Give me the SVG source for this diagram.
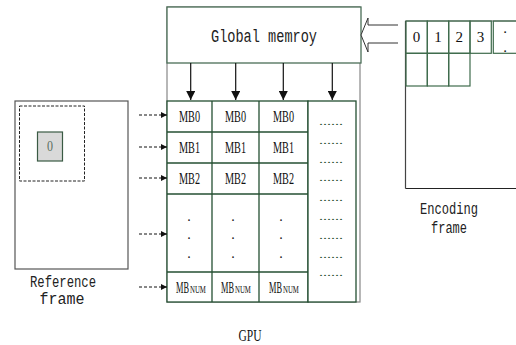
<svg xmlns="http://www.w3.org/2000/svg" width="516" height="345" viewBox="0 0 516 345">
<style>
.t{font-family:"Liberation Serif",serif;fill:#111}
.m{font-family:"Liberation Mono",monospace;fill:#222}
.box{fill:#fff;stroke:#4b6e57;stroke-width:1.3}
.grid{fill:#fff;stroke:#244f32;stroke-width:1.3}
.cell{fill:none;stroke:#3f6b4c;stroke-width:1.2}
.dash{fill:none;stroke:#111;stroke-width:1;stroke-dasharray:3 2}
.solid{fill:none;stroke:#111;stroke-width:1.2}
.mb{font-family:"Liberation Serif",serif;font-size:17px;fill:#111}
.sub{font-family:"Liberation Serif",serif;font-size:11px;fill:#111}
.dots{font-family:"Liberation Serif",serif;font-size:10px;fill:#1f4a2c}
</style>
<defs>
<marker id="ah" viewBox="0 0 10 10" refX="10" refY="5" markerWidth="6" markerHeight="7" markerUnits="userSpaceOnUse" orient="auto">
<path d="M0,0 L10,5 L0,10 Z" fill="#111"/>
</marker>
<marker id="dh" viewBox="0 0 10 10" refX="10" refY="5" markerWidth="14" markerHeight="9" markerUnits="userSpaceOnUse" orient="auto">
<path d="M0,0 L10,5 L0,10 Z" fill="#111"/>
</marker>
</defs>

<g id="gpu">
<rect x="167" y="7" width="193" height="295" fill="#fff" stroke="#888" stroke-width="1.2"/>
<rect class="box" x="167" y="7" width="194" height="56"/>
<text class="m" x="264" y="42" font-size="18" text-anchor="middle" textLength="106" lengthAdjust="spacingAndGlyphs">Global memroy</text>
<text class="t" x="250" y="341" font-size="16" text-anchor="middle" textLength="23" lengthAdjust="spacingAndGlyphs">GPU</text>
</g>

<g id="mb-grid">
<rect class="grid" x="167" y="101" width="141" height="201"/>
<rect class="grid" x="308" y="101" width="48" height="201"/>
<line class="grid" x1="212" y1="101" x2="212" y2="302"/>
<line class="grid" x1="259" y1="101" x2="259" y2="302"/>
<line class="grid" x1="167" y1="132" x2="308" y2="132"/>
<line class="grid" x1="167" y1="163" x2="308" y2="163"/>
<line class="grid" x1="167" y1="194" x2="308" y2="194"/>
<line class="grid" x1="167" y1="272" x2="308" y2="272"/>
<g class="mb" text-anchor="middle">
<text x="189.5" y="122" textLength="21" lengthAdjust="spacingAndGlyphs">MB0</text>
<text x="235.5" y="122" textLength="21" lengthAdjust="spacingAndGlyphs">MB0</text>
<text x="283.5" y="122" textLength="21" lengthAdjust="spacingAndGlyphs">MB0</text>
<text x="189.5" y="153" textLength="21" lengthAdjust="spacingAndGlyphs">MB1</text>
<text x="235.5" y="153" textLength="21" lengthAdjust="spacingAndGlyphs">MB1</text>
<text x="283.5" y="153" textLength="21" lengthAdjust="spacingAndGlyphs">MB1</text>
<text x="189.5" y="184" textLength="21" lengthAdjust="spacingAndGlyphs">MB2</text>
<text x="235.5" y="184" textLength="21" lengthAdjust="spacingAndGlyphs">MB2</text>
<text x="283.5" y="184" textLength="21" lengthAdjust="spacingAndGlyphs">MB2</text>
</g>
<g>
<text class="mb" transform="translate(176,293) scale(0.49,1)">MB</text>
<text class="sub" transform="translate(190,293) scale(0.62,1)">NUM</text>
<text class="mb" transform="translate(221,293) scale(0.49,1)">MB</text>
<text class="sub" transform="translate(235,293) scale(0.62,1)">NUM</text>
<text class="mb" transform="translate(269,293) scale(0.49,1)">MB</text>
<text class="sub" transform="translate(283,293) scale(0.62,1)">NUM</text>
</g>
<g class="t" font-size="14" text-anchor="middle">
<text x="189" y="221">.</text><text x="189" y="239">.</text><text x="189" y="258">.</text>
<text x="233" y="221">.</text><text x="233" y="239">.</text><text x="233" y="258">.</text>
<text x="281" y="221">.</text><text x="281" y="239">.</text><text x="281" y="258">.</text>
</g>
<g class="dots" text-anchor="middle">
<text x="331" y="125" textLength="24" lengthAdjust="spacingAndGlyphs">......</text>
<text x="331" y="144" textLength="24" lengthAdjust="spacingAndGlyphs">......</text>
<text x="331" y="163" textLength="24" lengthAdjust="spacingAndGlyphs">......</text>
<text x="331" y="181" textLength="24" lengthAdjust="spacingAndGlyphs">......</text>
<text x="331" y="201" textLength="24" lengthAdjust="spacingAndGlyphs">......</text>
<text x="331" y="220" textLength="24" lengthAdjust="spacingAndGlyphs">......</text>
<text x="331" y="239" textLength="24" lengthAdjust="spacingAndGlyphs">......</text>
<text x="331" y="258" textLength="24" lengthAdjust="spacingAndGlyphs">......</text>
<text x="331" y="276" textLength="24" lengthAdjust="spacingAndGlyphs">......</text>
</g>
</g>

<g id="reference-frame">
<rect x="15" y="101" width="113" height="168" fill="#fff" stroke="#555" stroke-width="1.2"/>
<rect x="19.5" y="106" width="65" height="75" fill="none" stroke="#222" stroke-width="1" stroke-dasharray="3 1.5"/>
<rect x="37.5" y="132" width="25" height="29" fill="#d9d9d9" stroke="#3a5a44" stroke-width="1.2"/>
<text class="t" x="50" y="151" font-size="15" text-anchor="middle" style="fill:#5a6e60" textLength="6" lengthAdjust="spacingAndGlyphs">0</text>
<text class="m" x="63" y="287" font-size="16" text-anchor="middle" textLength="66" lengthAdjust="spacingAndGlyphs">Reference</text>
<text class="m" x="62" y="304" font-size="16" text-anchor="middle" textLength="45" lengthAdjust="spacingAndGlyphs">frame</text>
</g>

<g id="encoding-frame">
<line x1="405.5" y1="21" x2="516" y2="21" stroke="#777" stroke-width="1.2"/>
<line x1="405.5" y1="21" x2="405.5" y2="188.5" stroke="#444" stroke-width="1.2"/>
<line x1="405.5" y1="188.5" x2="516" y2="188.5" stroke="#222" stroke-width="1.2"/>
<rect class="cell" x="406" y="21" width="21.3" height="32.3"/>
<rect class="cell" x="427.3" y="21" width="21.4" height="32.3"/>
<rect class="cell" x="448.7" y="21" width="21.3" height="32.3"/>
<rect class="cell" x="470" y="21" width="21.3" height="32.3"/>
<rect class="cell" x="493.3" y="21" width="30" height="32.3"/>
<rect class="cell" x="406" y="53.3" width="21.3" height="32.7"/>
<rect class="cell" x="427.3" y="53.3" width="21.4" height="32.7"/>
<rect class="cell" x="448.7" y="53.3" width="21.3" height="32.7"/>
<g class="t" font-size="15" text-anchor="middle">
<text x="416.6" y="42">0</text>
<text x="438" y="42">1</text>
<text x="459.3" y="42">2</text>
<text x="480.6" y="42">3</text>
<text x="505" y="33">.</text>
<text x="505" y="52">.</text>
</g>
<text class="m" x="449" y="214" font-size="16" text-anchor="middle" textLength="58" lengthAdjust="spacingAndGlyphs">Encoding</text>
<text class="m" x="449" y="233" font-size="16" text-anchor="middle" textLength="36" lengthAdjust="spacingAndGlyphs">frame</text>
</g>

<g id="connectors">
<line class="solid" x1="190.7" y1="63" x2="190.7" y2="100" marker-end="url(#dh)"/>
<line class="solid" x1="235.7" y1="63" x2="235.7" y2="100" marker-end="url(#dh)"/>
<line class="solid" x1="283.3" y1="63" x2="283.3" y2="100" marker-end="url(#dh)"/>
<line class="solid" x1="332.3" y1="63" x2="332.3" y2="100" marker-end="url(#dh)"/>
<line class="dash" x1="139" y1="115" x2="167" y2="115" marker-end="url(#ah)"/>
<line class="dash" x1="139" y1="147" x2="167" y2="147" marker-end="url(#ah)"/>
<line class="dash" x1="139" y1="178" x2="167" y2="178" marker-end="url(#ah)"/>
<line class="dash" x1="139" y1="234" x2="167" y2="234" marker-end="url(#ah)"/>
<line class="dash" x1="139" y1="287" x2="167" y2="287" marker-end="url(#ah)"/>
<polyline points="398,25 368,25 368,18 361,35 368,52 368,43 398,43" fill="#fff" stroke="#333" stroke-width="1"/>
</g>
</svg>
